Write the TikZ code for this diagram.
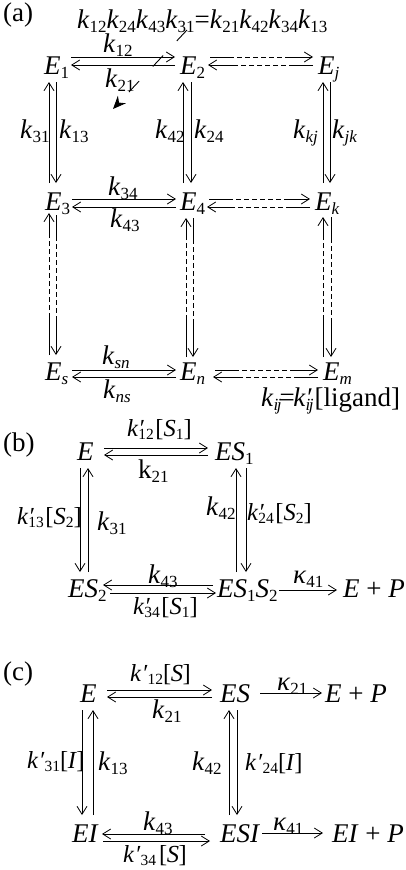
\documentclass[tikz,border=0pt]{standalone}
\usepackage{fontspec}
\setmainfont{Liberation Serif}
\usetikzlibrary{arrows.meta}
\newcommand\sbs[1]{\raisebox{-4pt}{\fontsize{17}{17}\selectfont #1}}
\newcommand\sbt[1]{\raisebox{-3.5pt}{\fontsize{15.5}{15.5}\selectfont #1}}
\newcommand\kv[1]{\textit{k}\sbs{#1}}
\newcommand\kp[1]{\textit{k}\rlap{\textit{′}}\sbs{#1}}
\newcommand\kpt[1]{\textit{k}\rlap{\textit{′}}\sbt{#1}}
\newcommand\kqt[1]{\textit{k}\kern0.5pt\textit{′}\sbt{#1}}
\newcommand\Ev[1]{\textit{E}\sbs{#1}}
\newcommand\kap[1]{\textit{κ}\sbs{#1}}
\begin{document}
\begin{tikzpicture}[x=1pt,y=-1pt,
  lab/.style={inner sep=0pt,anchor=base west,font=\fontsize{27}{32}\selectfont},
  blab/.style={inner sep=0pt,anchor=base west,font=\fontsize{24.5}{30}\selectfont},
  arr/.style={line width=0.8pt,-{Straight Barb[length=8pt,width=10pt]}},
  dashH/.style={dash pattern=on 24pt off 3pt on 5pt off 3pt on 5pt off 3pt on 5pt off 3pt on 5pt off 3pt on 5pt off 3pt on 5pt off 3pt on 90pt},
  dashVu/.style={dash pattern=on 42pt off 3pt on 5pt off 3pt on 5pt off 3pt on 5pt off 3pt on 5pt off 3pt on 5pt off 3pt on 5pt off 3pt on 5pt off 3pt on 5pt off 3pt on 5pt off 3pt on 90pt},
  dashVd/.style={dash pattern=on 26pt off 3pt on 5pt off 3pt on 5pt off 3pt on 5pt off 3pt on 5pt off 3pt on 5pt off 3pt on 5pt off 3pt on 5pt off 3pt on 5pt off 3pt on 5pt off 3pt on 90pt}]
\useasboundingbox (0,0) rectangle (406,870);
\fill[white] (0,0) rectangle (406,870);
% ---------- (a)
\node[lab] (la) at (3,21) {(a)};
\node[lab] (eq) at (77,28) {\kv{12}\kv{24}\kv{43}\kv{31}=\kv{21}\kv{42}\kv{34}\kv{13}};
\node[lab] (E1) at (44,74) {\Ev{1}};
\node[lab] (E2) at (180,74) {\Ev{2}};
\node[lab] (Ej) at (318,74) {\Ev{\textit{j}}};
\node[lab] (E3) at (45,210) {\Ev{3}};
\node[lab] (E4) at (180,210) {\Ev{4}};
\node[lab] (Ek) at (315,210) {\Ev{\textit{k}}};
\node[lab] (Es) at (45,380) {\Ev{\textit{s}}};
\node[lab] (En) at (180,380) {\Ev{\textit{n}}};
\node[lab] (Em) at (323,380) {\Ev{\textit{m}}};
\node[lab] (ka12) at (103,52) {\kv{12}};
\node[lab] (ka21) at (105,87) {\kv{21}};
\node[lab] (ka31) at (20,138) {\kv{31}};
\node[lab] (ka13) at (59,138) {\kv{13}};
\node[lab] (ka42) at (155,138) {\kv{42}};
\node[lab] (ka24) at (194,138) {\kv{24}};
\node[lab] (kakj) at (293,138) {\kv{\textit{kj}}};
\node[lab] (kajk) at (332,138) {\kv{\textit{jk}}};
\node[lab] (ka34) at (108,195) {\kv{34}};
\node[lab] (ka43) at (110,227) {\kv{43}};
\node[lab] (kasn) at (102,364) {\kv{\textit{sn}}};
\node[lab] (kans) at (103,398) {\kv{\textit{ns}}};
\node[lab] (klig) at (261,406) {\textit{k}\sbs{\textit{i\kern-1.5pt j}}\kern-2pt=\kern-1.5pt\textit{k}\rlap{\textit{′}}\sbs{\textit{i\kern-1.5pt j}}\kern1pt[ligand]};
% row arrows
\draw[arr] ([shift={(27,-17)}]E1.base west) -- ([shift={(-5,-17)}]E2.base west);
\draw[arr] ([shift={(-5,-9)}]E2.base west) -- ([shift={(27,-9)}]E1.base west);
\draw[arr,dashH] ([shift={(30,-17)}]E2.base west) -- ([shift={(-5,-17)}]Ej.base west);
\draw[arr,dashH] ([shift={(-5,-9)}]Ej.base west) -- ([shift={(28,-9)}]E2.base west);
\draw[arr] ([shift={(27,-11)}]E3.base west) -- ([shift={(-4,-11)}]E4.base west);
\draw[arr] ([shift={(-4,-3)}]E4.base west) -- ([shift={(27,-3)}]E3.base west);
\draw[arr,dashH] ([shift={(29,-11)}]E4.base west) -- ([shift={(-5,-11)}]Ek.base west);
\draw[arr,dashH] ([shift={(-5,-3)}]Ek.base west) -- ([shift={(27,-3)}]E4.base west);
\draw[arr] ([shift={(27,-10)}]Es.base west) -- ([shift={(-4,-10)}]En.base west);
\draw[arr] ([shift={(-4,-3)}]En.base west) -- ([shift={(27,-3)}]Es.base west);
\draw[arr,dashH] ([shift={(35,-10)}]En.base west) -- ([shift={(-5,-10)}]Em.base west);
\draw[arr,dashH] ([shift={(-5,-3)}]Em.base west) -- ([shift={(33,-3)}]En.base west);
% upper verticals
\draw[arr] ([shift={(4,-27)}]E3.base west) -- ([shift={(5,8)}]E1.base west);
\draw[arr] ([shift={(12,8)}]E1.base west) -- ([shift={(11,-27)}]E3.base west);
\draw[arr] ([shift={(3,-27)}]E4.base west) -- ([shift={(3,8)}]E2.base west);
\draw[arr] ([shift={(11,8)}]E2.base west) -- ([shift={(11,-27)}]E4.base west);
\draw[arr] ([shift={(8,-27)}]Ek.base west) -- ([shift={(5,8)}]Ej.base west);
\draw[arr] ([shift={(12,8)}]Ej.base west) -- ([shift={(15,-27)}]Ek.base west);
% lower verticals
\draw[arr,dashVu] ([shift={(4,-25)}]Es.base west) -- ([shift={(4,3)}]E3.base west);
\draw[arr,dashVd] ([shift={(11,5)}]E3.base west) -- ([shift={(11,-25)}]Es.base west);
\draw[arr,dashVu] ([shift={(6,-23)}]En.base west) -- ([shift={(6,8)}]E4.base west);
\draw[arr,dashVd] ([shift={(13,8)}]E4.base west) -- ([shift={(13,-23)}]En.base west);
\draw[arr,dashVu] ([shift={(0,-23)}]Em.base west) -- ([shift={(8,7)}]Ek.base west);
\draw[arr,dashVd] ([shift={(16,7)}]Ek.base west) -- ([shift={(8,-23)}]Em.base west);
% cycle arrow
\coordinate (cyA) at (187,30);
\coordinate (cyB) at (113,109);
\draw[line width=0.9pt,dash pattern=on 15pt off 20pt,-{Stealth[length=13pt,width=11pt]}] (cyA) -- (cyB);
% ---------- (b)
\node[lab] (lb) at (3,451) {(b)};
\node[lab] (bE) at (77,460) {\textit{E}};
\node[lab] (bES1) at (215,460) {\textit{ES}\sbs{1}};
\node[lab] (bES2) at (68,597) {\textit{ES}\sbs{2}};
\node[lab] (bES12) at (217,597) {\textit{ES}\sbs{1}\textit{S}\sbs{2}};
\node[lab] (bEP) at (343,597) {\textit{E} + \textit{P}};
\node[blab] (kb12) at (127,436) {\kpt{12}\kern1.5pt[\textit{S}\sbt{1}]};
\node[lab] (kb21) at (138,478) {k\sbs{21}};
\node[blab] (kb13) at (17,524) {\kpt{13}\kern1.5pt[\textit{S}\sbt{2}]};
\node[lab] (kb31) at (97,530) {\kv{31}};
\node[lab] (kb42) at (206,515) {\kv{42}};
\node[blab] (kb24) at (247,520) {\kpt{24}\kern1.5pt[\textit{S}\sbt{2}]};
\node[lab] (kb43) at (148,583) {\kv{43}};
\node[blab] (kb34) at (133,614) {\kpt{34}\kern1.5pt[\textit{S}\sbt{1}]};
\node[lab] (kb41) at (293,583) {\kap{41}};
\draw[arr] ([shift={(27,-12)}]bE.base west) -- ([shift={(-7,-12)}]bES1.base west);
\draw[arr] ([shift={(-7,-5)}]bES1.base west) -- ([shift={(27,-5)}]bE.base west);
\draw[arr] ([shift={(3,8)}]bE.base west) -- ([shift={(12,-25)}]bES2.base west);
\draw[arr] ([shift={(20,-25)}]bES2.base west) -- ([shift={(11,8)}]bE.base west);
\draw[arr] ([shift={(19,-25)}]bES12.base west) -- ([shift={(21,8)}]bES1.base west);
\draw[arr] ([shift={(31,8)}]bES1.base west) -- ([shift={(29,-25)}]bES12.base west);
\draw[arr] ([shift={(-4,-12)}]bES12.base west) -- ([shift={(35,-12)}]bES2.base west);
\draw[arr] ([shift={(42,-4)}]bES2.base west) -- ([shift={(-1,-4)}]bES12.base west);
\draw[arr] ([shift={(62,-7)}]bES12.base west) -- ([shift={(-6,-7)}]bEP.base west);
% ---------- (c)
\node[lab] (lc) at (3,680) {(c)};
\node[lab] (cE) at (80,702) {\textit{E}};
\node[lab] (cES) at (220,702) {\textit{ES}};
\node[lab] (cEP) at (325,702) {\textit{E} + \textit{P}};
\node[lab] (cEI) at (72,842) {\textit{EI}};
\node[lab] (cESI) at (220,842) {\textit{ESI}};
\node[lab] (cEIP) at (332,842) {\textit{EI} + \textit{P}};
\node[blab] (kc12) at (130,681) {\kqt{12}[\kern-0.5pt\textit{S}\kern-0.5pt]};
\node[lab] (kc21) at (152,718) {\kv{21}};
\node[lab] (kcap21) at (277,690) {\kap{21}};
\node[blab] (kc31) at (27,768) {\kqt{31}[\kern-0.5pt\textit{I}\kern-0.5pt]};
\node[lab] (kc13) at (98,770) {\kv{13}};
\node[lab] (kc42) at (192,770) {\kv{42}};
\node[blab] (kc24) at (245,770) {\kqt{24}[\kern-0.5pt\textit{I}\kern-0.5pt]};
\node[lab] (kc43) at (143,830) {\kv{43}};
\node[blab] (kc34) at (123,862) {\kqt{34}\kern3pt[\kern-0.5pt\textit{S}\kern-0.5pt]};
\node[lab] (kcap41) at (273,830) {\kap{41}};
\draw[arr] ([shift={(27,-12)}]cE.base west) -- ([shift={(-8,-12)}]cES.base west);
\draw[arr] ([shift={(-8,-5)}]cES.base west) -- ([shift={(27,-5)}]cE.base west);
\draw[arr] ([shift={(40,-9)}]cES.base west) -- ([shift={(-3,-9)}]cEP.base west);
\draw[arr] ([shift={(2,8)}]cE.base west) -- ([shift={(10,-27)}]cEI.base west);
\draw[arr] ([shift={(21,-27)}]cEI.base west) -- ([shift={(13,8)}]cE.base west);
\draw[arr] ([shift={(9,-27)}]cESI.base west) -- ([shift={(9,8)}]cES.base west);
\draw[arr] ([shift={(17,8)}]cES.base west) -- ([shift={(17,-27)}]cESI.base west);
\draw[arr] ([shift={(-15,-8)}]cESI.base west) -- ([shift={(30,-8)}]cEI.base west);
\draw[arr] ([shift={(31,-1)}]cEI.base west) -- ([shift={(-10,-1)}]cESI.base west);
\draw[arr] ([shift={(42,-9)}]cESI.base west) -- ([shift={(-9,-9)}]cEIP.base west);
\end{tikzpicture}
\end{document}
